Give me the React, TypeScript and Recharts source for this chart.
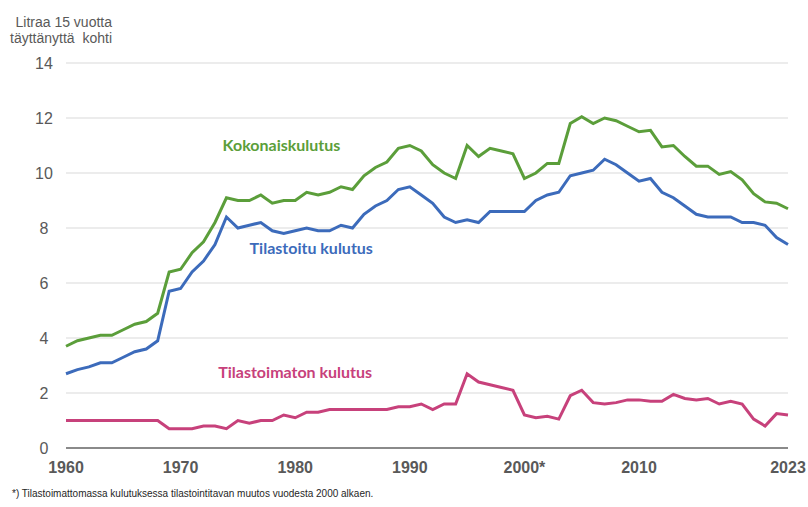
import React from 'react';
import { LineChart, Line, XAxis, YAxis, CartesianGrid, ReferenceDot } from 'recharts';

const years = [
  1960, 1961, 1962, 1963, 1964, 1965, 1966, 1967, 1968, 1969,
  1970, 1971, 1972, 1973, 1974, 1975, 1976, 1977, 1978, 1979,
  1980, 1981, 1982, 1983, 1984, 1985, 1986, 1987, 1988, 1989,
  1990, 1991, 1992, 1993, 1994, 1995, 1996, 1997, 1998, 1999,
  2000, 2001, 2002, 2003, 2004, 2005, 2006, 2007, 2008, 2009,
  2010, 2011, 2012, 2013, 2014, 2015, 2016, 2017, 2018, 2019,
  2020, 2021, 2022, 2023,
];

const kokonais = [
  3.7, 3.9, 4.0, 4.1, 4.1, 4.3, 4.5, 4.6, 4.9, 6.4,
  6.5, 7.1, 7.5, 8.2, 9.1, 9.0, 9.0, 9.2, 8.9, 9.0,
  9.0, 9.3, 9.2, 9.3, 9.5, 9.4, 9.9, 10.2, 10.4, 10.9,
  11.0, 10.8, 10.3, 10.0, 9.8, 11.0, 10.6, 10.9, 10.8, 10.7,
  9.8, 10.0, 10.35, 10.35, 11.8, 12.05, 11.8, 12.0, 11.9, 11.7,
  11.5, 11.55, 10.95, 11.0, 10.6, 10.25, 10.25, 9.95, 10.05, 9.75,
  9.25, 8.95, 8.9, 8.7,
];

const tilastoitu = [
  2.7, 2.85, 2.95, 3.1, 3.1, 3.3, 3.5, 3.6, 3.9, 5.7,
  5.8, 6.4, 6.8, 7.4, 8.4, 8.0, 8.1, 8.2, 7.9, 7.8,
  7.9, 8.0, 7.9, 7.9, 8.1, 8.0, 8.5, 8.8, 9.0, 9.4,
  9.5, 9.2, 8.9, 8.4, 8.2, 8.3, 8.2, 8.6, 8.6, 8.6,
  8.6, 9.0, 9.2, 9.3, 9.9, 10.0, 10.1, 10.5, 10.3, 10.0,
  9.7, 9.8, 9.3, 9.1, 8.8, 8.5, 8.4, 8.4, 8.4, 8.2,
  8.2, 8.1, 7.65, 7.4,
];

const tilastoimaton = [
  1.0, 1.0, 1.0, 1.0, 1.0, 1.0, 1.0, 1.0, 1.0, 0.7,
  0.7, 0.7, 0.8, 0.8, 0.7, 1.0, 0.9, 1.0, 1.0, 1.2,
  1.1, 1.3, 1.3, 1.4, 1.4, 1.4, 1.4, 1.4, 1.4, 1.5,
  1.5, 1.6, 1.4, 1.6, 1.6, 2.7, 2.4, 2.3, 2.2, 2.1,
  1.2, 1.1, 1.15, 1.05, 1.9, 2.1, 1.65, 1.6, 1.65, 1.75,
  1.75, 1.7, 1.7, 1.95, 1.8, 1.75, 1.8, 1.6, 1.7, 1.6,
  1.05, 0.8, 1.25, 1.2,
];

const xTicks = [1960, 1970, 1980, 1990, 2000, 2010, 2023];
const yTicks = [0, 2, 4, 6, 8, 10, 12, 14];

const GREEN = '#5b9e3a';
const BLUE = '#3c6bbb';
const PINK = '#c7417b';
const GREY = '#595959';

const data = years.map((year, i) => ({
  year,
  kokonais: kokonais[i],
  tilastoitu: tilastoitu[i],
  tilastoimaton: tilastoimaton[i],
}));

const YTick = (props: any) => (
  <text x={props.x} y={props.y} dy={6} textAnchor="middle" fontSize={16} fill={GREY} fontFamily="Liberation Sans, Arial, sans-serif">
    {props.payload.value}
  </text>
);

const XTick = (props: any) => (
  <text x={props.x} y={props.y} dy={25} textAnchor="middle" fontSize={16} fontWeight="bold" fill={GREY} fontFamily="Liberation Sans, Arial, sans-serif">
    {props.payload.value === 2000 ? '2000*' : props.payload.value}
  </text>
);

const seriesLabel = (value: string, fill: string) => ({
  value,
  position: 'center' as const,
  fill,
  fontSize: 16,
  fontWeight: 'bold',
  fontFamily: 'Lato, sans-serif',
});

export default function App() {
  return (
    <div style={{ position: 'absolute', left: 0, top: 0, width: 808, height: 507, background: '#fff', fontFamily: 'Liberation Sans, Arial, sans-serif' }}>
      <div style={{ position: 'absolute', left: 0, top: 14, width: 112, textAlign: 'right', fontSize: 14, lineHeight: '16px', color: GREY, whiteSpace: 'pre' }}>
        {'Litraa 15 vuotta\ntäyttänyttä  kohti'}
      </div>
      <LineChart width={808} height={507} data={data} margin={{ top: 63, right: 20, left: 0, bottom: 29 }}>
        <CartesianGrid vertical={false} stroke="#d9d9d9" />
        <XAxis
          dataKey="year"
          type="number"
          domain={[1960, 2023]}
          ticks={xTicks}
          tick={<XTick />}
          tickLine={false}
          tickSize={0}
          tickMargin={0}
          height={30}
          axisLine={{ stroke: '#8a8a8a', strokeWidth: 2 }}
        />
        <YAxis
          type="number"
          domain={[0, 14]}
          ticks={yTicks}
          tick={<YTick />}
          tickLine={false}
          axisLine={false}
          tickSize={0}
          tickMargin={22}
          width={66}
        />
        <Line type="linear" dataKey="kokonais" stroke={GREEN} strokeWidth={3} dot={false} isAnimationActive={false} />
        <Line type="linear" dataKey="tilastoitu" stroke={BLUE} strokeWidth={3} dot={false} isAnimationActive={false} />
        <Line type="linear" dataKey="tilastoimaton" stroke={PINK} strokeWidth={3} dot={false} isAnimationActive={false} />
        <ReferenceDot x={1978.8} y={11.0} r={0} fill="none" stroke="none" label={seriesLabel('Kokonaiskulutus', GREEN)} />
        <ReferenceDot x={1981.4} y={7.25} r={0} fill="none" stroke="none" label={seriesLabel('Tilastoitu kulutus', BLUE)} />
        <ReferenceDot x={1980.0} y={2.75} r={0} fill="none" stroke="none" label={seriesLabel('Tilastoimaton kulutus', PINK)} />
      </LineChart>
      <div style={{ position: 'absolute', left: 12, top: 488, fontSize: 10, lineHeight: '12px', color: '#262626', whiteSpace: 'nowrap' }}>
        *) Tilastoimattomassa kulutuksessa tilastointitavan muutos vuodesta 2000 alkaen.
      </div>
    </div>
  );
}
